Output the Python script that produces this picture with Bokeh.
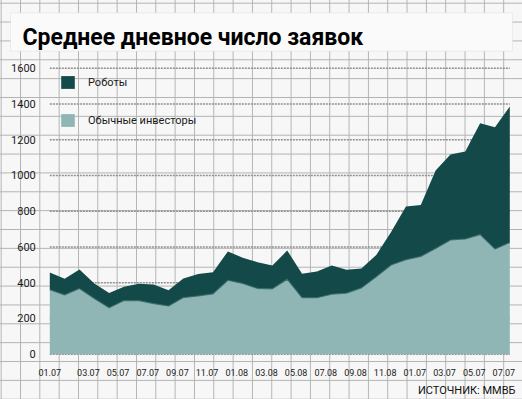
from bokeh.plotting import figure
from bokeh.models import (Range1d, ColumnDataSource, Legend, LegendItem, Label, BoxAnnotation)
from bokeh.core.properties import value
from bokeh.embed import file_html
from bokeh.resources import INLINE

# ---------------- data ----------------
title_text = "Среднее дневное число заявок"
source_text = "ИСТОЧНИК: ММВБ"
series_names = ["Обычные инвесторы", "Роботы"]

tick_labels = ["01.07", "03.07", "05.07", "07.07", "09.07", "11.07", "01.08", "03.08",
               "05.08", "07.08", "09.08", "11.08", "01.07", "03.07", "05.07", "07.07"]
y_ticks = [0, 200, 400, 600, 800, 1000, 1200, 1400, 1600]

investors = [361, 332, 368, 311, 260, 300, 300, 283, 270, 317, 326, 338, 414, 396, 368, 366,
             420, 316, 316, 336, 342, 371, 433, 499, 529, 547, 592, 639, 645, 669, 589, 625]
robots = [96, 90, 106, 85, 83, 78, 94, 107, 88, 107, 122, 121, 161, 144, 147, 130,
          160, 134, 147, 160, 131, 109, 122, 184, 297, 288, 436, 478, 489, 623, 681, 761]

# ---------------- layout / styles ----------------
W, H = 522, 399
X0_PX, PX_PER_MONTH = 49.3, 14.839      # screen position of first month, month width
Y0_PX, PX_PER_UNIT = 353.7, 0.17875     # screen position of zero, pixels per order
DARK = "#134a49"
LIGHT = "#8fb6b5"
FONT = "Roboto"
TXT = "#1a1a1a"

months = list(range(len(investors)))
last = months[-1]
src = ColumnDataSource(dict(x=months, inv=investors, rob=robots))

# label positions (month index), placed as in the original layout
x_ticks = [0.0] + [2 * j + 0.6 for j in range(1, len(tick_labels))]
xsrc = ColumnDataSource(dict(x=x_ticks, t=tick_labels))
ysrc = ColumnDataSource(dict(y=y_ticks, t=[str(v) for v in y_ticks],
                             x0=[0] * len(y_ticks), x1=[last] * len(y_ticks)))

p = figure(width=W, height=H, output_backend="svg", toolbar_location=None,
           x_axis_location=None, y_axis_location=None, min_border=0,
           x_range=Range1d(-X0_PX / PX_PER_MONTH, (W - X0_PX) / PX_PER_MONTH),
           y_range=Range1d(-(H - Y0_PX) / PX_PER_UNIT, Y0_PX / PX_PER_UNIT))
p.grid.visible = False
p.background_fill_alpha = 0
p.border_fill_alpha = 0
p.outline_line_color = None
p.styles = {
    "background-color": "#f7f7f7",
    "background-image": "linear-gradient(to right, #b3b3b3 0px, #b3b3b3 1px, transparent 1px),"
                        "linear-gradient(to bottom, #b3b3b3 0px, #b3b3b3 1px, transparent 1px)",
    "background-size": "19.333px 18.87px",
    "background-position": "20px 2.7px",
}

# dotted value lines
p.segment(x0="x0", x1="x1", y0="y", y1="y", source=ysrc, line_color="#8f8f8f",
          line_width=1.6, line_dash="2 1", level="underlay")

rs = p.varea_stack(stackers=["inv", "rob"], x="x", color=[LIGHT, DARK], source=src)
p.line("x", "inv", source=src, line_color="#2f6664", line_width=1.2, line_alpha=0.8)

# tick labels
p.text(x=0, y="y", text="t", source=ysrc, x_offset=-14, text_align="right",
       text_baseline="middle", text_font=value(FONT), text_font_size="11px", text_color=TXT)
p.text(x="x", y=0, text="t", source=xsrc, y_offset=18.6, text_align="center",
       text_baseline="middle", text_font=value(FONT), text_font_size="9px", text_color=TXT)

legend = Legend(items=[LegendItem(label=series_names[1], renderers=[rs[1]]),
                       LegendItem(label=series_names[0], renderers=[rs[0]])],
                location=(59, 271), margin=0, padding=0, spacing=22,
                glyph_width=17, glyph_height=16, label_height=16, label_standoff=12,
                label_text_font=FONT, label_text_font_size="11px", label_text_color=TXT,
                background_fill_alpha=0, border_line_color=None)
p.add_layout(legend)

# title box and title
box = BoxAnnotation(left=10, right=512, top=12.3, bottom=50.7,
                    left_units="canvas", right_units="canvas", top_units="canvas",
                    bottom_units="canvas", fill_color="#fafafa", fill_alpha=1,
                    line_color="#cfcfcf", line_width=1)
p.add_layout(box)
p.add_layout(Label(x=22, y=37, x_units="canvas", y_units="canvas", text=title_text,
                   text_font=FONT, text_font_style="bold", text_font_size="23px",
                   text_color="#000000", text_baseline="alphabetic"))
p.add_layout(Label(x=515, y=389.5, x_units="canvas", y_units="canvas", text=source_text,
                   text_font=FONT, text_font_size="11px", text_color="#111111",
                   text_align="right", text_baseline="middle"))

open("out.html", "w").write(file_html(p, INLINE))
